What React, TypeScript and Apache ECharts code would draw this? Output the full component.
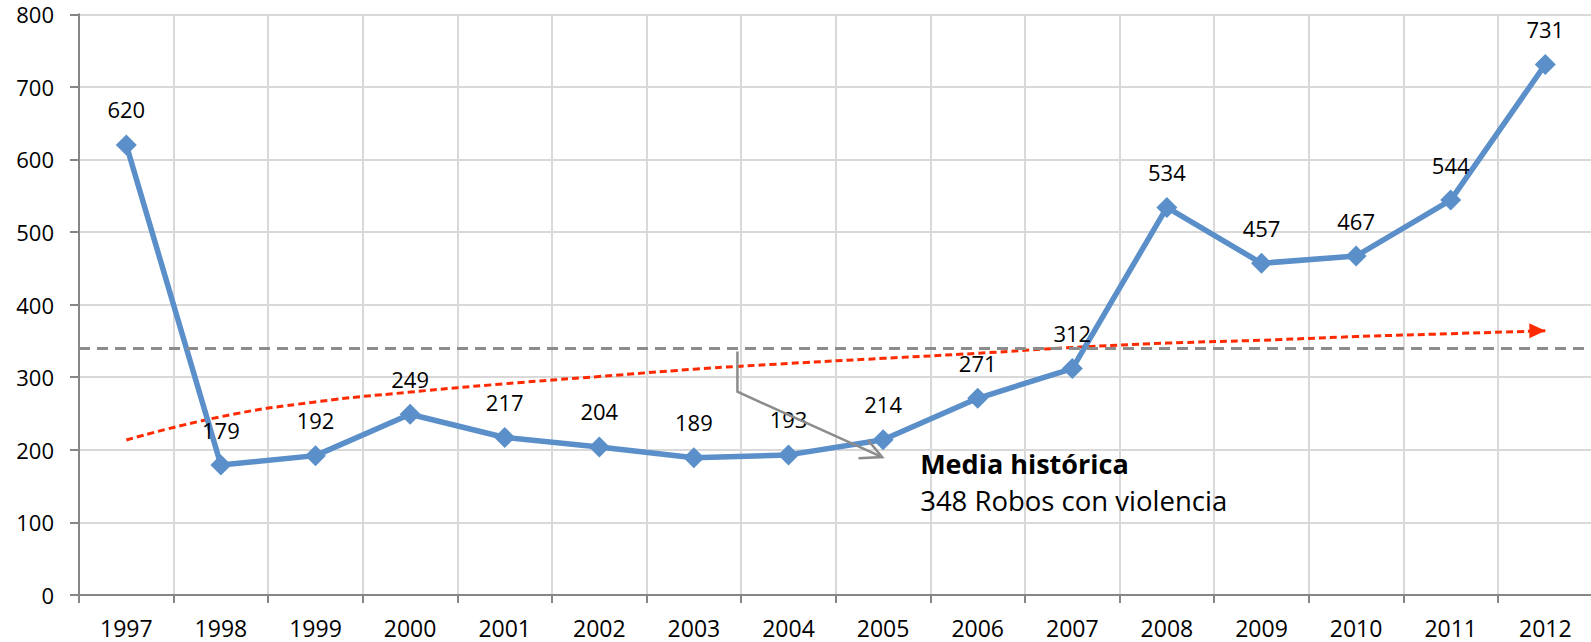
import React, { useEffect, useRef } from "react";
import * as echarts from "echarts";

const years = ["1997","1998","1999","2000","2001","2002","2003","2004","2005","2006","2007","2008","2009","2010","2011","2012"];
const robos = [620, 179, 192, 249, 217, 204, 189, 193, 214, 271, 312, 534, 457, 467, 544, 731];
const tendencia = [213.5, 245.6, 266, 279.5, 291, 301, 311, 319, 326, 333, 341, 347, 351, 356, 360, 364];
const mediaLinea = 340;
const yMin = 0;
const yMax = 800;
const yInterval = 100;
// annotation connector, in (category index, value) space
const conector = [[6.46, 335.5], [6.46, 280], [7.99, 190]];
const flechaBrazos = [[7.74, 188.3], [7.99, 190], [7.84, 213.5]];
const tituloNota = "Media histórica";
const textoNota = "348 Robos con violencia";

const FONT = "'Open Sans', 'Noto Sans', sans-serif";
const BLUE = "#5B8FC9";
const RED = "#FF2A00";
const GRAYLINE = "#8C8C8C";

export default function App() {
  const ref = useRef<HTMLDivElement>(null);
  useEffect(() => {
    if (!ref.current) return;
    const chart = echarts.init(ref.current, null, { renderer: "svg" });
    const trendData: any[] = tendencia.map((v, i) =>
      i === tendencia.length - 1
        ? { value: v, symbol: "triangle", symbolRotate: -90, symbolSize: [15, 16], symbolOffset: [-8, 0], itemStyle: { color: RED } }
        : { value: v, symbol: "none" }
    );
    chart.setOption({
      animation: false,
      backgroundColor: "#ffffff",
      grid: { left: 79, top: 14.3, width: 1513.6, height: 580.7, containLabel: false, outerBoundsMode: "none" },
      xAxis: {
        type: "category",
        data: years,
        boundaryGap: true,
        axisLine: { show: true, lineStyle: { color: "#868686", width: 2 } },
        axisTick: { show: true, length: 8, lineStyle: { color: "#868686", width: 2 } },
        splitLine: { show: true, lineStyle: { color: "#D9D9D9", width: 2 } },
        axisLabel: { color: "#000", fontFamily: FONT, fontSize: 23, margin: 21 },
      },
      yAxis: {
        type: "value",
        min: yMin,
        max: yMax,
        interval: yInterval,
        axisLine: { show: true, lineStyle: { color: "#868686", width: 2 } },
        axisTick: { show: true, length: 9, lineStyle: { color: "#868686", width: 2 } },
        splitLine: { show: true, lineStyle: { color: "#D9D9D9", width: 2 } },
        axisLabel: { color: "#000", fontFamily: FONT, fontSize: 22, margin: 25 },
      },
      series: [
        {
          type: "line",
          data: trendData,
          showSymbol: true,
          symbol: "none",
          smooth: true,
          lineStyle: { color: RED, width: 3, type: [7, 4] },
          itemStyle: { color: RED },
          z: 3,
          markLine: {
            silent: true,
            symbol: "none",
            label: { show: false },
            lineStyle: { color: GRAYLINE, width: 3, type: [11, 7] },
            data: [{ yAxis: mediaLinea }],
          },
        },
        {
          type: "line",
          data: robos,
          symbol: "diamond",
          symbolSize: 21,
          lineStyle: { color: BLUE, width: 5.5 },
          itemStyle: { color: BLUE },
          z: 4,
          label: {
            show: true,
            position: "top",
            distance: 14,
            color: "#000",
            fontFamily: FONT,
            fontSize: 22,
          },
        },
      ],
    });

    const toPx = (p: number[]) => {
      const i0 = Math.floor(p[0]);
      const a = chart.convertToPixel({ xAxisIndex: 0, yAxisIndex: 0 }, [i0, p[1]]) as number[];
      const b = chart.convertToPixel({ xAxisIndex: 0, yAxisIndex: 0 }, [i0 + 1, p[1]]) as number[];
      return [a[0] + (b[0] - a[0]) * (p[0] - i0), a[1]];
    };
    const tip = toPx([7.99, 190]);
    chart.setOption({
      graphic: [
        {
          type: "polyline",
          shape: { points: conector.map(toPx) },
          style: { stroke: GRAYLINE, lineWidth: 2.5, fill: null },
          z: 10,
        },
        {
          type: "polyline",
          shape: { points: flechaBrazos.map(toPx) },
          style: { stroke: GRAYLINE, lineWidth: 2.5, fill: null },
          z: 10,
        },
        {
          type: "text",
          x: tip[0] + 38,
          y: tip[1] + 6,
          style: { text: tituloNota, fontFamily: FONT, fontSize: 27, fontWeight: "bold", fill: "#000", verticalAlign: "middle", align: "left" },
          z: 10,
        },
        {
          type: "text",
          x: tip[0] + 38,
          y: tip[1] + 43,
          style: { text: textoNota, fontFamily: FONT, fontSize: 27.5, fill: "#000", verticalAlign: "middle", align: "left" },
          z: 10,
        },
      ],
    });
    return () => chart.dispose();
  }, []);
  return <div ref={ref} style={{ position: "fixed", left: 0, top: 0, width: 1591, height: 642, background: "#fff" }} />;
}
